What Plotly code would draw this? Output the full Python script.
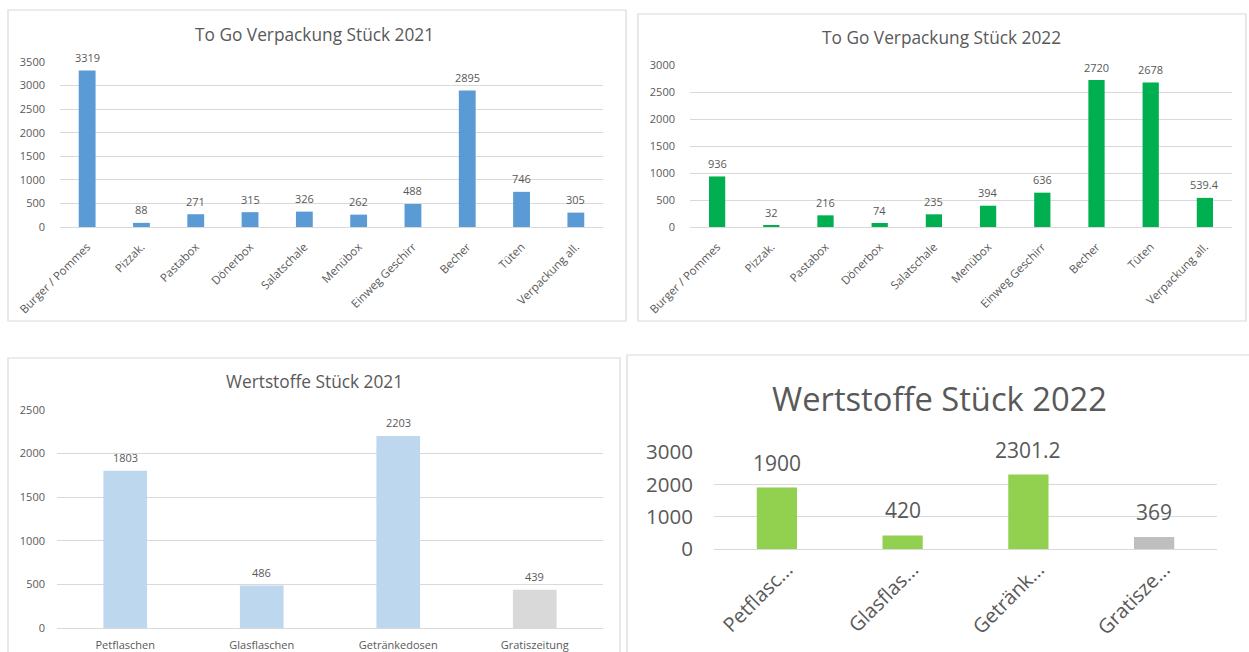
import plotly.graph_objects as go

W, H = 1249, 652

# ---- data ----
togo_categories = ["Burger / Pommes", "Pizzak.", "Pastabox", "Dönerbox", "Salatschale",
                   "Menübox", "Einweg Geschirr", "Becher", "Tüten", "Verpackung all."]
togo_2021 = [3319, 88, 271, 315, 326, 262, 488, 2895, 746, 305]
togo_2022 = [936, 32, 216, 74, 235, 394, 636, 2720, 2678, 539.4]

wert_categories = ["Petflaschen", "Glasflaschen", "Getränkedosen", "Gratiszeitung"]
wert_2021 = [1803, 486, 2203, 439]
wert_2022 = [1900, 420, 2301.2, 369]
wert_2022_ticklabels = ["Petflasc...", "Glasflas...", "Getränk...", "Gratisze..."]

titles = ["To Go Verpackung Stück 2021", "To Go Verpackung Stück 2022",
          "Wertstoffe Stück 2021", "Wertstoffe Stück 2022"]

TXT = "#595959"
GRID = "#D9D9D9"
FONT = "Open Sans"

def px_x(x):
    return x / W

def px_y(y):
    return 1 - y / H

fig = go.Figure()

def fmt(v):
    return f"{v:g}"

panels = [
    dict(cats=togo_categories, vals=togo_2021, colors=["#5B9BD5"] * 10, xd=(60, 603), y0=227, ytop=62,
         ymax=3500, dtick=500, width=0.31, fs=11, xfs=11.5, lfs=11, tang=-45, ticktext=togo_categories,
         ystand=14, xstand=10, lshift=13, xshift=0),
    dict(cats=togo_categories, vals=togo_2022, colors=["#00B050"] * 10, xd=(690, 1232), y0=227, ytop=65,
         ymax=3000, dtick=500, width=0.30, fs=11, xfs=11.5, lfs=11, tang=-45, ticktext=togo_categories,
         ystand=14, xstand=10, lshift=13, xshift=0),
    dict(cats=wert_categories, vals=wert_2021, colors=["#BDD7EE"] * 3 + ["#D9D9D9"], xd=(57, 603), y0=628,
         ytop=410, ymax=2500, dtick=500, width=0.32, fs=11, xfs=11, lfs=11, tang=0, ticktext=wert_categories,
         ystand=11, xstand=9, lshift=13, xshift=0),
    dict(cats=wert_categories, vals=wert_2022, colors=["#92D050"] * 3 + ["#BFBFBF"], xd=(714, 1217), y0=549,
         ytop=452, ymax=3000, dtick=1000, width=0.32, fs=20.5, xfs=20, lfs=21, tang=-45,
         ticktext=wert_2022_ticklabels, ystand=20, xstand=4, lshift=25, xshift=10),
]

layout_axes = {}
for i, p in enumerate(panels):
    n = i + 1
    xa = "x" if n == 1 else f"x{n}"
    ya = "y" if n == 1 else f"y{n}"
    fig.add_trace(go.Bar(
        x=p["cats"], y=p["vals"], marker=dict(color=p["colors"], line=dict(width=0)),
        width=p["width"], cliponaxis=False,
        xaxis=xa, yaxis=ya, showlegend=False, hoverinfo="x+y"))
    for c, v in zip(p["cats"], p["vals"]):
        fig.add_annotation(x=c, y=v, xref=xa, yref=ya, text=fmt(v), showarrow=False,
                           xanchor="center", yanchor="middle", yshift=p["lshift"],
                           font=dict(color=TXT, size=p["lfs"], family=FONT))
    xkey = "xaxis" if n == 1 else f"xaxis{n}"
    ykey = "yaxis" if n == 1 else f"yaxis{n}"
    layout_axes[xkey] = dict(
        domain=[px_x(p["xd"][0]), px_x(p["xd"][1])], anchor=ya,
        range=[-0.5, len(p["cats"]) - 0.5], tickangle=p["tang"], automargin=False,
        tickmode="array", tickvals=p["cats"], ticktext=p["ticktext"],
        tickfont=dict(color=TXT, size=p["xfs"], family=FONT), ticklabelstandoff=p["xstand"],
        ticklabelshift=p["xshift"],
        showgrid=False, zeroline=False, showline=False, ticks="", fixedrange=True)
    layout_axes[ykey] = dict(
        domain=[px_y(p["y0"]), px_y(p["ytop"])], anchor=xa, automargin=False,
        range=[0, p["ymax"]], dtick=p["dtick"], tick0=0,
        tickfont=dict(color=TXT, size=p["fs"], family=FONT),
        showgrid=True, gridcolor=GRID, gridwidth=1.2, zeroline=True, zerolinecolor=GRID,
        zerolinewidth=1.2, showline=False, ticks="", fixedrange=True, ticklabelstandoff=p["ystand"])

fig.update_layout(**layout_axes)

# borders
borders = [(8, 10, 626, 321), (638, 14, 1246, 321), (8, 358, 620, 660), (627, 355, 1260, 660)]
for (x0, y0, x1, y1) in borders:
    fig.add_shape(type="rect", xref="paper", yref="paper",
                  x0=px_x(x0), x1=px_x(x1), y0=px_y(y0), y1=px_y(y1),
                  line=dict(color=GRID, width=1.2), fillcolor="rgba(0,0,0,0)", layer="below")

# titles
title_pos = [(314, 34, 17.3), (941, 37, 17.3), (314, 381, 17.3), (939, 398, 32.7)]
for t, (cx, cy, fs) in zip(titles, title_pos):
    fig.add_annotation(text=t, x=px_x(cx), y=px_y(cy), xref="paper", yref="paper",
                       showarrow=False, xanchor="center", yanchor="middle",
                       font=dict(color=TXT, size=fs, family=FONT))

fig.update_layout(width=W, height=H, margin=dict(l=0, r=0, t=0, b=0, pad=0, autoexpand=False),
                  paper_bgcolor="white", plot_bgcolor="white", bargap=0.7)

fig.write_html("out.html", config={"displayModeBar": False},
               post_script="document.body.style.margin='0px';"
                           "document.documentElement.style.overflow='hidden';"
                           "document.body.style.overflow='hidden';")
